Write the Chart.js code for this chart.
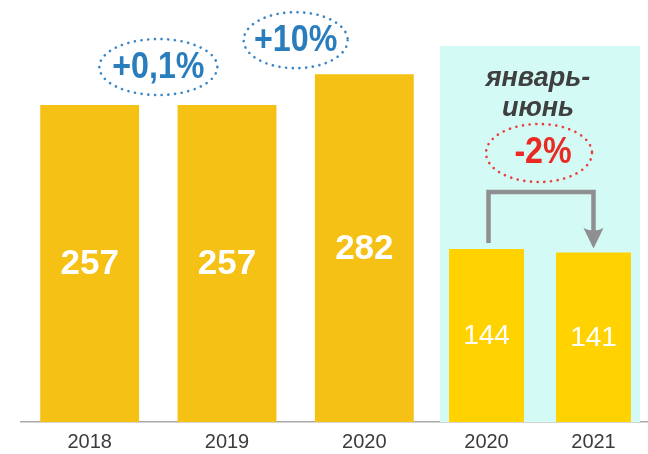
<!DOCTYPE html>
<html>
<head>
<meta charset="utf-8">
<script src="https://cdn.jsdelivr.net/npm/chart.js@4"></script>
<style>
  body { margin: 0; background: #fff; }
  canvas { position: absolute; top: 0; }
  #yearChart { left: 0; }
  #halfChart { left: 433px; }
</style>
</head>
<body>
<canvas id="yearChart" width="433" height="454"></canvas>
<canvas id="halfChart" width="215" height="454"></canvas>
<script>
// full years
const years = ['2018', '2019', '2020'];
const yearValues = [257, 257, 282];
const growthLabels = ['+0,1%', '+10%'];

// january-june
const halfYears = ['2020', '2021'];
const halfValues = [144, 141];
const halfChange = '-2%';
const periodLabel = ['январь-', 'июнь'];

const regular = "'Liberation Sans', Arial, sans-serif";

function dottedEllipse(ctx, cx, cy, rx, ry, color) {
    ctx.save();
    ctx.beginPath();
    ctx.ellipse(cx, cy, rx, ry, 0, 0, Math.PI * 2);
    ctx.setLineDash([0.1, 6.6]);
    ctx.lineCap = 'round';
    ctx.lineWidth = 2.6;
    ctx.strokeStyle = color;
    ctx.stroke();
    ctx.restore();
}

// bold percent text, squeezed a little to look like a narrow face
function narrowText(ctx, text, x, y, color) {
    ctx.save();
    ctx.translate(x, y);
    ctx.scale(0.87, 1);
    ctx.fillStyle = color;
    ctx.font = 'bold 37px ' + regular;
    ctx.textAlign = 'center';
    ctx.textBaseline = 'middle';
    ctx.fillText(text, 0, 0);
    ctx.restore();
}

// value written in the middle of each bar
const valueLabels = {
    id: 'valueLabels',
    afterDatasetsDraw(chart, args, opts) {
        const ctx = chart.ctx;
        const ds = chart.data.datasets[0];
        ctx.save();
        ctx.fillStyle = '#fff';
        ctx.font = opts.font;
        ctx.textAlign = 'center';
        ctx.textBaseline = 'middle';
        chart.getDatasetMeta(0).data.forEach((bar, i) => {
            ctx.fillText(ds.data[i], bar.x, (bar.y + bar.base) / 2 + 1);
        });
        ctx.restore();
    }
};

// growth bubbles between the yearly bars
const growthBubbles = {
    id: 'growthBubbles',
    afterDraw(chart) {
        const ctx = chart.ctx;
        const bars = chart.getDatasetMeta(0).data;
        const lift = [38, 34];
        const radii = [[59, 28], [52, 28]];
        growthLabels.forEach((label, i) => {
            const cx = (bars[i].x + bars[i + 1].x) / 2;
            const cy = bars[i + 1].y - lift[i];
            dottedEllipse(ctx, cx, cy, radii[i][0], radii[i][1], '#3b86c4');
            narrowText(ctx, label, cx, cy + 1, '#2a7dbd');
        });
    }
};

// cyan panel, period title, -2% bubble and arrow
const halfPanel = {
    id: 'halfPanel',
    beforeDatasetsDraw(chart) {
        const ctx = chart.ctx;
        const a = chart.chartArea;
        ctx.save();
        ctx.fillStyle = '#d4faf6';
        ctx.fillRect(7, 46, 200, a.bottom - 46);
        ctx.restore();
    },
    afterDraw(chart) {
        const ctx = chart.ctx;
        const bars = chart.getDatasetMeta(0).data;
        const mid = (bars[0].x + bars[1].x) / 2;

        ctx.save();
        ctx.fillStyle = '#3f3f3f';
        ctx.font = 'italic bold 27px ' + regular;
        ctx.textAlign = 'center';
        ctx.textBaseline = 'alphabetic';
        ctx.fillText(periodLabel[0], mid - 2, 86);
        ctx.fillText(periodLabel[1], mid - 2, 116);
        ctx.restore();

        dottedEllipse(ctx, mid - 1, 153, 53, 29, '#e8403a');
        narrowText(ctx, halfChange, mid + 3, 153, '#ea2a22');

        // arrow from first bar to second
        const x1 = bars[0].x + 2, x2 = bars[1].x;
        const yTop = 192;
        ctx.save();
        ctx.strokeStyle = '#8f8f8f';
        ctx.fillStyle = '#8f8f8f';
        ctx.lineWidth = 4.5;
        ctx.beginPath();
        ctx.moveTo(x1, bars[0].y - 6);
        ctx.lineTo(x1, yTop);
        ctx.lineTo(x2, yTop);
        ctx.lineTo(x2, 232);
        ctx.stroke();
        ctx.beginPath();
        ctx.moveTo(x2 - 10, 228);
        ctx.quadraticCurveTo(x2, 233, x2 + 10, 228);
        ctx.lineTo(x2, bars[1].y - 4);
        ctx.closePath();
        ctx.fill();
        ctx.restore();
    }
};

function xAxis() {
    return {
        grid: { display: false, drawTicks: false },
        border: { display: true, color: '#aaaaaa', width: 1.5 },
        ticks: {
            color: '#3c3c3c',
            padding: 8,
            font: { family: regular, size: 20 }
        },
        afterFit(scale) { scale.height = 32; }
    };
}

new Chart(document.getElementById('yearChart'), {
    type: 'bar',
    data: {
        labels: years,
        datasets: [{
            data: yearValues,
            backgroundColor: '#f6c115',
            categoryPercentage: 1,
            barPercentage: 0.72
        }]
    },
    options: {
        responsive: false,
        animation: false,
        layout: { padding: { left: 21, right: 0, top: 52, bottom: 0 } },
        scales: {
            x: xAxis(),
            y: { display: false, min: 0, max: 300 }
        },
        plugins: {
            legend: { display: false },
            tooltip: { enabled: false },
            valueLabels: { font: 'bold 35px ' + regular }
        }
    },
    plugins: [valueLabels, growthBubbles]
});

new Chart(document.getElementById('halfChart'), {
    type: 'bar',
    data: {
        labels: halfYears,
        datasets: [{
            data: halfValues,
            backgroundColor: '#ffd200',
            categoryPercentage: 1,
            barPercentage: 0.70
        }]
    },
    options: {
        responsive: false,
        animation: false,
        layout: { padding: { left: 0, right: 1, top: 52, bottom: 0 } },
        scales: {
            x: xAxis(),
            y: { display: false, min: 0, max: 308 }
        },
        plugins: {
            legend: { display: false },
            tooltip: { enabled: false },
            valueLabels: { font: '28px ' + regular }
        }
    },
    plugins: [halfPanel, valueLabels]
});
</script>
</body>
</html>
